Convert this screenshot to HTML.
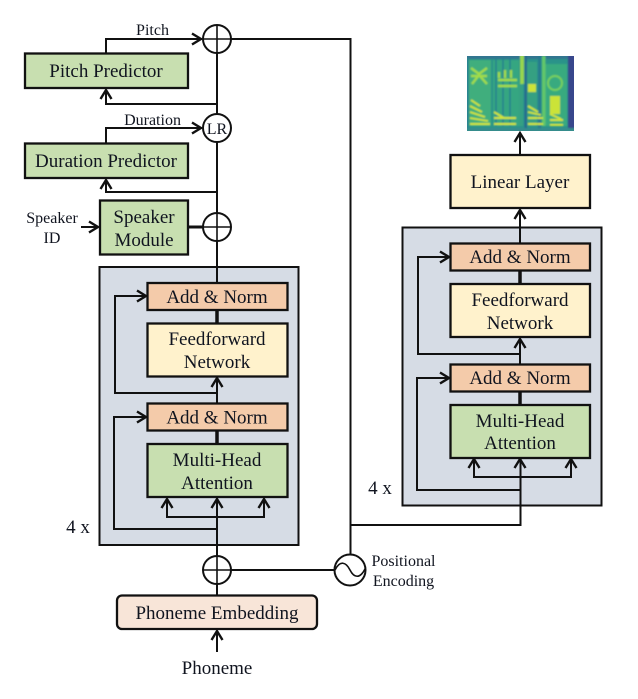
<!DOCTYPE html>
<html><head><meta charset="utf-8">
<style>html,body{margin:0;padding:0;background:#fff}svg{display:block}
text{font-family:"Liberation Serif",serif;fill:#10141f;text-anchor:middle}</style></head>
<body>
<svg width="638" height="699" viewBox="0 0 638 699" xmlns="http://www.w3.org/2000/svg">
<defs>
<filter id="bl" x="-5%" y="-5%" width="110%" height="110%"><feGaussianBlur stdDeviation="0.900"/></filter>
<clipPath id="sc"><rect x="467" y="56" width="107" height="75"/></clipPath>
</defs>

<!-- grey containers -->
<rect x="99.500" y="267" width="199" height="278" fill="#d6dce5" stroke="#111" stroke-width="2"/>
<rect x="402.500" y="227.500" width="199" height="278" fill="#d6dce5" stroke="#111" stroke-width="2"/>

<g fill="none" stroke="#111" stroke-width="2">
<path d="M106 53V39H202"/>
<path d="M217 104H106V90"/>
<path d="M106 143V128H202"/>
<path d="M217 192H106V180"/>
<path d="M217 53V114M217 142V283"/>
<path d="M81 227H98"/>
<path d="M188 227H203" stroke-width="3"/>
<path d="M231 39H350.500V555"/>
<path d="M350.500 525H520.500V459"/>
<path d="M217 310V323M217 430V444" stroke-width="3.500"/>
<path d="M217 403V378"/>
<path d="M217 393H115V296H146"/>
<path d="M217 529H114V417H146"/>
<path d="M217 498V556"/>
<path d="M167 499V517H264V499"/>
<path d="M217 584V595"/>
<path d="M231 570H335"/>
<path d="M217 652V631"/>
<path d="M520 227V243"/>
<path d="M520 270V284M520 391V405" stroke-width="3.500"/>
<path d="M520 364V339"/>
<path d="M520 354H418V257H449"/>
<path d="M520 490H417V378H449"/>
<path d="M474 459V477H571V459"/>
<path d="M520 154V133"/>
<path d="M520 227V210"/>
</g>
<!-- arrowheads -->
<g fill="none" stroke="#111" stroke-width="2.400">
<path d="M192 33.500l9 5.500-9 5.500"/>
<path d="M192 122.500l9 5.500-9 5.500"/>
<path d="M89 221.500l9 5.500-9 5.500"/>
<path d="M137 290.500l9 5.500-9 5.500"/>
<path d="M137 411.500l9 5.500-9 5.500"/>
<path d="M440 251.500l9 5.500-9 5.500"/>
<path d="M440 372.500l9 5.500-9 5.500"/>
<path d="M100.500 99l5.500-9 5.500 9"/>
<path d="M100.500 189l5.500-9 5.500 9"/>
<path d="M211.500 387l5.500-9 5.500 9"/>
<path d="M161.500 508l5.500-9 5.500 9M211.500 508l5.500-9 5.500 9M258.500 508l5.500-9 5.500 9"/>
<path d="M211.500 640l5.500-9 5.500 9"/>
<path d="M514.500 348l5.500-9 5.500 9"/>
<path d="M468.500 468l5.500-9 5.500 9M514.500 468l5.500-9 5.500 9M565.500 468l5.500-9 5.500 9"/>
<path d="M514.500 142l5.500-9 5.500 9"/>
<path d="M514.500 219l5.500-9 5.500 9"/>
</g>

<!-- boxes -->
<g stroke="#111" stroke-width="2.300">
<rect x="25" y="53.500" width="163" height="34.500" fill="#c8dfb0"/>
<rect x="25" y="143.500" width="163" height="34.500" fill="#c8dfb0"/>
<rect x="100" y="200.500" width="88" height="54" fill="#c8dfb0"/>
<rect x="147.500" y="283" width="140" height="27" fill="#f4cbaa"/>
<rect x="147.500" y="323.500" width="140" height="53" fill="#fff2cc"/>
<rect x="147.500" y="403.500" width="140" height="27" fill="#f4cbaa"/>
<rect x="147.500" y="444" width="140" height="53" fill="#c8dfb0"/>
<rect x="450.500" y="243.500" width="139.500" height="27" fill="#f4cbaa"/>
<rect x="450.500" y="284" width="139.500" height="53" fill="#fff2cc"/>
<rect x="450.500" y="364.500" width="139.500" height="27" fill="#f4cbaa"/>
<rect x="450.500" y="405" width="139.500" height="53" fill="#c8dfb0"/>
<rect x="450.500" y="155" width="139.500" height="53" fill="#fff2cc"/>
<rect x="117" y="595.500" width="200" height="33.500" rx="5" fill="#f8e5d8"/>
</g>

<!-- circles -->
<g fill="#fff" stroke="#111" stroke-width="2">
<circle cx="217" cy="39" r="14"/>
<circle cx="217" cy="128" r="14"/>
<circle cx="217" cy="227" r="14"/>
<circle cx="217" cy="570" r="14"/>
<circle cx="350" cy="570" r="15.500"/>
</g>
<g fill="none" stroke="#111" stroke-width="1.600">
<path d="M203 39H231M217 25V53M203 227H231M217 213V241M203 570H231M217 556V584"/>
<path d="M335 570C340 560 346 562 350 570S360 579 365 569"/>
</g>

<!-- spectrogram -->
<g clip-path="url(#sc)">
<rect x="467" y="56" width="107" height="75" fill="#2a9389"/>
<g filter="url(#bl)">
<rect x="460" y="50" width="120" height="9" fill="#307690"/>
<rect x="460" y="58" width="9" height="72" fill="#2a8490"/>
<rect x="469" y="60" width="22" height="66" fill="#3fae7d"/>
<rect x="493" y="60" width="26" height="66" fill="#35a681"/>
<rect x="527" y="62" width="10" height="64" fill="#34a082"/>
<rect x="545" y="64" width="22" height="62" fill="#38aa7f"/>
<path d="M496 58v68M503 58v68M510 58v68" stroke="#27808f" stroke-width="1.500"/>
<rect x="520" y="50" width="4" height="34" fill="#98d64f"/>
<rect x="524.500" y="50" width="2.500" height="85" fill="#256a8e"/>
<rect x="519" y="84" width="4" height="42" fill="#35a082"/>
<rect x="538" y="56" width="3" height="75" fill="#287a8e"/>
<rect x="542" y="56" width="3.500" height="70" fill="#62c66a"/>
<rect x="568" y="50" width="10" height="85" fill="#38468c"/>
<path d="M471 68l8 6 8-6M472 84l7-9 8 9M471 76h16" stroke="#a0dc4a" stroke-width="2.400" fill="none"/>
<path d="M498 80h19M498 86h19M499 72v6M505 70v8M511 70v8" stroke="#a4dc48" stroke-width="2.400" fill="none"/>
<circle cx="555" cy="83" r="7" fill="none" stroke="#78d05c" stroke-width="2"/>
<rect x="550" y="96" width="10" height="18" fill="#cbe338"/>
<rect x="528" y="84" width="8" height="8" fill="#cbe338"/>
<g fill="none" stroke="#d2e534" stroke-width="1.900">
<path d="M471 100l9 6M470 106l12 6M470 112l15 5M470 118l18 3M470 124h20"/>
<path d="M494 112l10 6M494 118h22M494 124h22"/>
<path d="M528 106l10 6M528 112l13 3M528 118h15M528 124h15"/>
<path d="M550 114l11 5M550 120h13M550 125h13"/>
</g>
<rect x="460" y="128" width="120" height="6" fill="#358c8c"/>
</g>
</g>

<!-- labels -->
<g font-size="19">
<text x="106" y="77">Pitch Predictor</text>
<text x="106" y="167">Duration Predictor</text>
<text x="144" y="223">Speaker</text>
<text x="144" y="246">Module</text>
<text x="217" y="303">Add &amp; Norm</text>
<text x="217" y="345">Feedforward</text>
<text x="217" y="368">Network</text>
<text x="217" y="423.500">Add &amp; Norm</text>
<text x="217" y="466">Multi-Head</text>
<text x="217" y="489">Attention</text>
<text x="520" y="263">Add &amp; Norm</text>
<text x="520" y="306">Feedforward</text>
<text x="520" y="329">Network</text>
<text x="520" y="384">Add &amp; Norm</text>
<text x="520" y="427">Multi-Head</text>
<text x="520" y="449">Attention</text>
<text x="520" y="188">Linear Layer</text>
<text x="217" y="619">Phoneme Embedding</text>
<text x="217" y="674">Phoneme</text>
<text x="78" y="533">4 x</text>
<text x="380" y="494">4 x</text>
</g>
<g font-size="16">
<text x="152.500" y="35">Pitch</text>
<text x="152.500" y="125">Duration</text>
<text x="217" y="134">LR</text>
<text x="52" y="223">Speaker</text>
<text x="52" y="243">ID</text>
<text x="403.500" y="566">Positional</text>
<text x="403.500" y="586">Encoding</text>
</g>
</svg>
</body></html>
